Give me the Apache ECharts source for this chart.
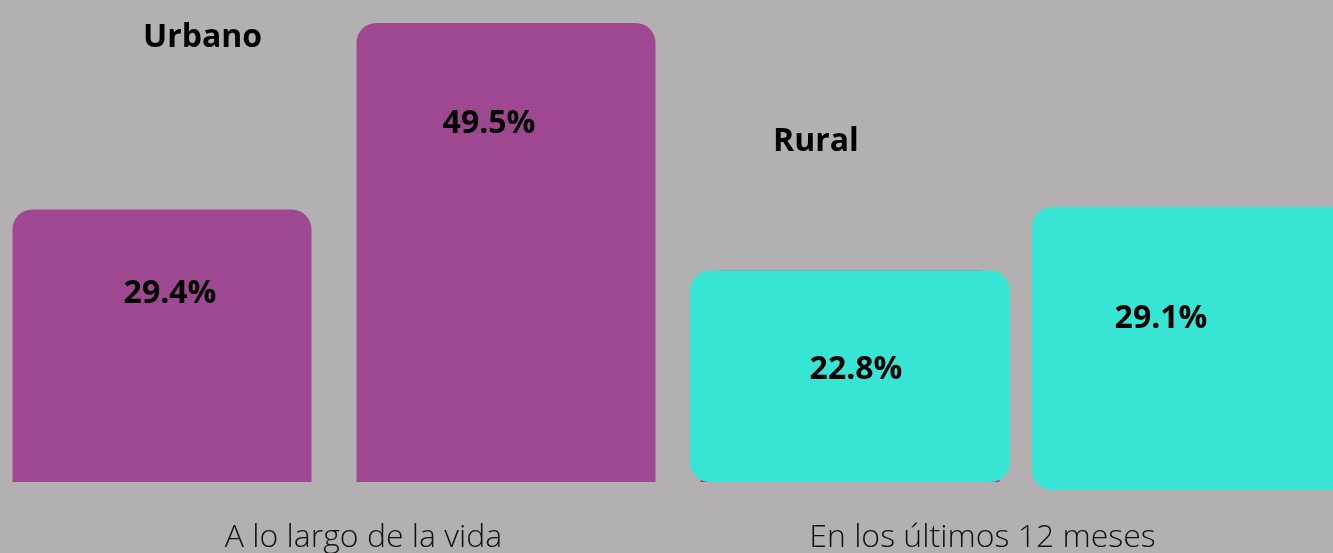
<!DOCTYPE html>
<html>
<head>
<meta charset="utf-8">
<script src="https://cdn.jsdelivr.net/npm/echarts@6/dist/echarts.min.js"></script>
<style>
  html, body { margin: 0; padding: 0; background: #b2b0b0; }
  #chart { width: 1333px; height: 553px; }
</style>
</head>
<body>
<div id="chart"></div>
<script>
// data
const periods = ['A lo largo de la vida', 'En los últimos 12 meses'];
const barSlots = ['b1', 'b2', 'b3'];
const seriesNames = ['Urbano', 'Rural'];
const urbano = [29.4, 49.5, 22.8];
const rural = [22.8, 29.1];

const purple = '#9e4891';
const teal = '#38e5d5';
const font = '"Open Sans", "Noto Sans", sans-serif';

// label tweak per bar: [y from bar top, x offset]
const purpleLabelPos = [[85, 8], [101, -17], [0, 0]];
const tealLabelPos = [[99, 6], [112, -31]];

function valueLabel(pos, show) {
    return {
        show: show,
        position: ['50%', pos[0]],
        offset: [pos[1], 0],
        align: 'center',
        verticalAlign: 'middle',
        formatter: (p) => p.value.toFixed(1) + '%',
        color: '#000',
        fontFamily: font,
        fontWeight: 'bold',
        fontSize: 32
    };
}

let chart = echarts.init(document.getElementById('chart'));
chart.setOption({
    backgroundColor: '#b2b0b0',
    animation: false,
    title: [
        {
            text: seriesNames[0], left: 138, top: 17,
            textStyle: { fontFamily: font, fontWeight: 'bold', fontSize: 32, color: '#000' }
        },
        {
            text: seriesNames[1], left: 768, top: 121,
            textStyle: { fontFamily: font, fontWeight: 'bold', fontSize: 32, color: '#000' }
        }
    ],
    grid: [
        { left: -10, right: 311, top: 23, bottom: 71, outerBoundsMode: 'none' },
        { left: 1032, right: -19, top: 207, bottom: 63, outerBoundsMode: 'none' },
        { left: 54, right: 41, top: 23, bottom: 71, outerBoundsMode: 'none' }
    ],
    xAxis: [
        { type: 'category', gridIndex: 0, data: barSlots, show: false },
        { type: 'category', gridIndex: 0, data: barSlots, show: false, position: 'top' },
        { type: 'category', gridIndex: 1, data: ['b4'], show: false },
        {
            type: 'category', gridIndex: 2, data: periods,
            axisLine: { show: false }, axisTick: { show: false },
            axisLabel: {
                margin: 40,
                color: '#111',
                fontFamily: font,
                fontWeight: 300,
                fontSize: 32
            }
        }
    ],
    yAxis: [
        { type: 'value', gridIndex: 0, min: 0, max: 49.5, show: false },
        { type: 'value', gridIndex: 1, min: 0, max: 29.1, show: false },
        { type: 'value', gridIndex: 2, min: 0, max: 1, show: false }
    ],
    series: [
        {
            name: seriesNames[0],
            type: 'bar',
            xAxisIndex: 0,
            yAxisIndex: 0,
            barWidth: 299,
            itemStyle: { color: purple, borderRadius: [20, 20, 0, 0] },
            data: urbano.map((v, i) => ({ value: v, label: valueLabel(purpleLabelPos[i], i < 2) }))
        },
        {
            name: seriesNames[1],
            type: 'bar',
            xAxisIndex: 1,
            yAxisIndex: 0,
            barWidth: 320,
            itemStyle: { color: teal, borderRadius: 20 },
            data: ['-', '-', { value: rural[0], label: valueLabel(tealLabelPos[0], true) }]
        },
        {
            name: seriesNames[1],
            type: 'bar',
            xAxisIndex: 2,
            yAxisIndex: 1,
            barWidth: '100%',
            clip: false,
            itemStyle: { color: teal, borderRadius: 20 },
            data: [{ value: rural[1], label: valueLabel(tealLabelPos[1], true) }]
        }
    ]
});
</script>
</body>
</html>
